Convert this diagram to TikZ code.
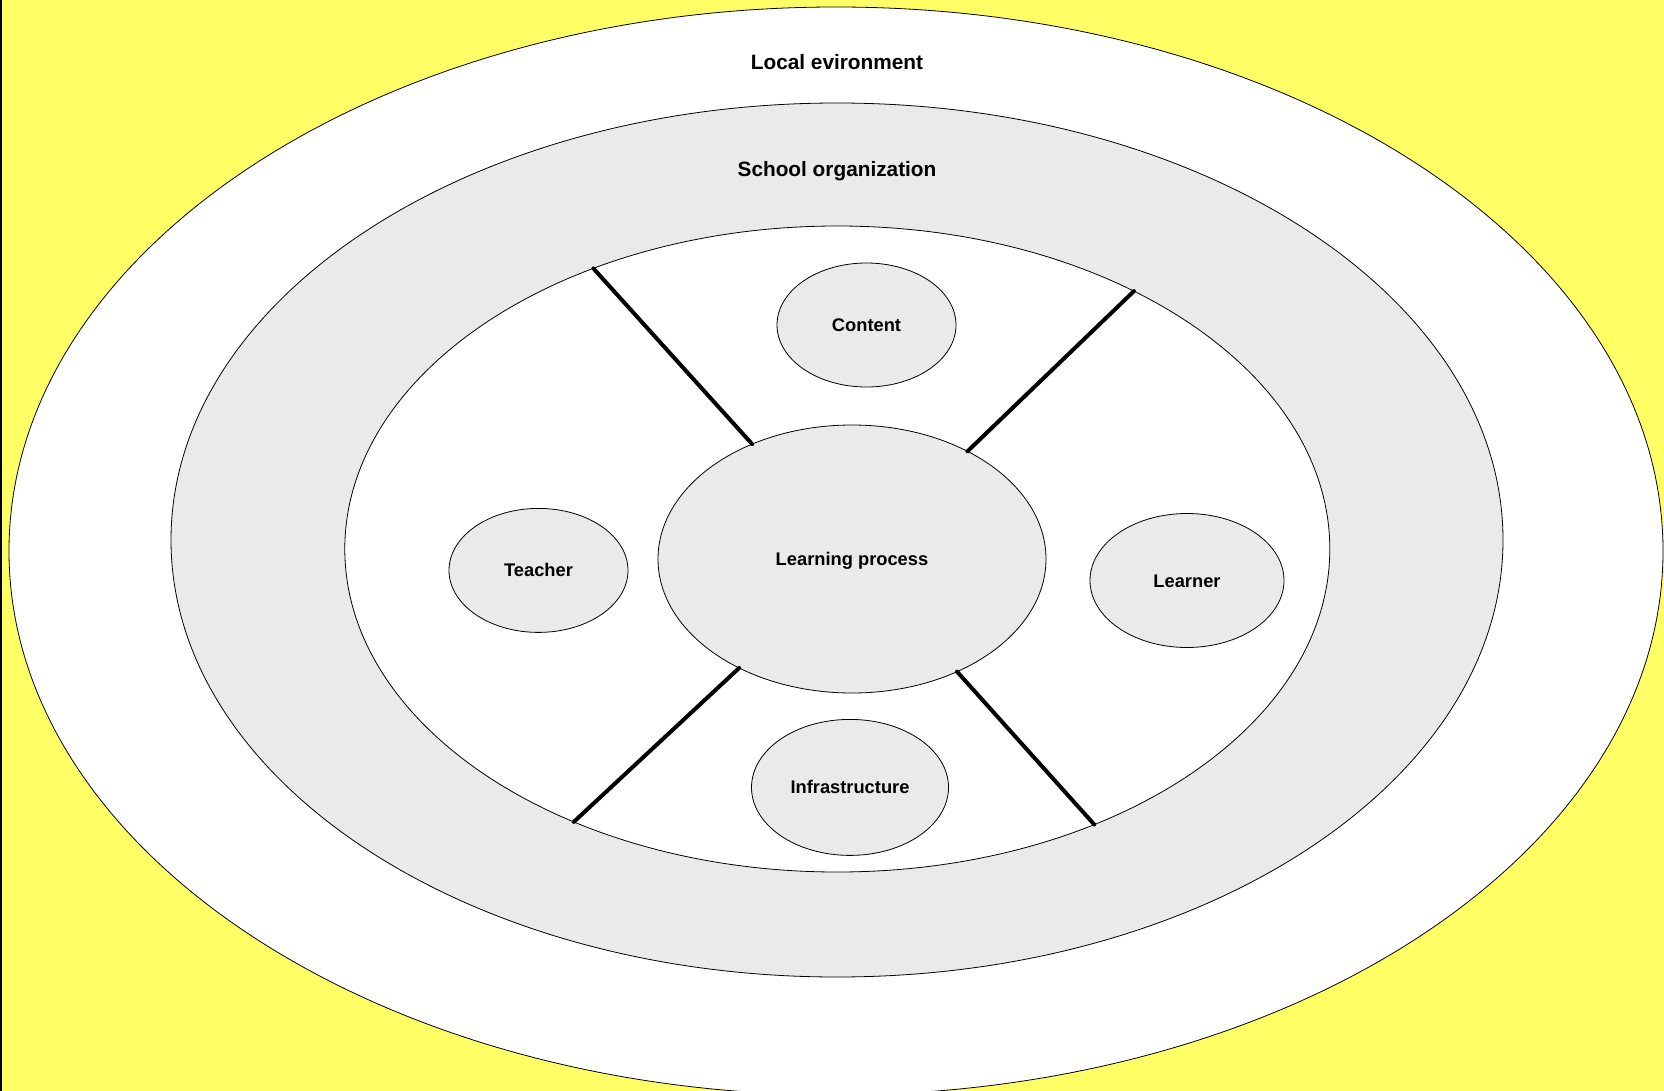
\documentclass[tikz,border=0pt]{standalone}
\usepackage{fontspec}
\setmainfont{Liberation Sans}
\usetikzlibrary{shapes.geometric}
\definecolor{bgyellow}{HTML}{FFFF66}
\definecolor{ringgrey}{HTML}{EAEAEA}
\begin{document}
\begin{tikzpicture}[x=1pt,y=-1pt,
 ring/.style={ellipse,draw=black,line width=0.8pt,inner sep=0pt,outer sep=0pt},
 item/.style={ellipse,draw=black,line width=0.8pt,fill=ringgrey,inner sep=0pt,outer sep=0pt,
   font=\bfseries\fontsize{18.3}{22}\selectfont,text height=13.1pt,text depth=0pt},
 title/.style={font=\bfseries\fontsize{20.8}{25}\selectfont,anchor=base,inner sep=0pt},
 spoke/.style={line width=4pt,line cap=round}]
\useasboundingbox (0,0) rectangle (1664,1091);
\clip (0,0) rectangle (1664,1091);
\fill[bgyellow] (0,0) rectangle (1664,1091);
\draw[line width=2pt] (1,0) -- (1,1091);
\node[ring,fill=white,minimum width=1654pt,minimum height=1088pt] (env) at (836,551) {};
\node[ring,fill=ringgrey,minimum width=1332pt,minimum height=874pt] (school) at (837,540) {};
\node[ring,fill=white,minimum width=985pt,minimum height=646pt] (inner) at (837.3,549) {};
\node[title] (envlabel) at (837,69.3) {Local evironment};
\node[title] (schoollabel) at (837,176.7) {School organization};
\node[item,minimum width=388pt,minimum height=268pt] (lp) at (852,559) {Learning process};
\node[item,minimum width=179pt,minimum height=124pt] (content) at (866.5,325) {Content};
\node[item,minimum width=179pt,minimum height=124pt] (teacher) at (538.5,570.4) {Teacher};
\node[item,minimum width=194pt,minimum height=134pt] (learner) at (1187,580.5) {Learner};
\node[item,minimum width=197pt,minimum height=136pt] (infra) at (850,787.4) {Infrastructure};
\draw[spoke] (lp.131) -- (inner.131);
\draw[spoke] (lp.43) -- (inner.41);
\draw[spoke] (lp.224) -- (inner.226);
\draw[spoke] (lp.313) -- (inner.313);
\end{tikzpicture}
\end{document}
